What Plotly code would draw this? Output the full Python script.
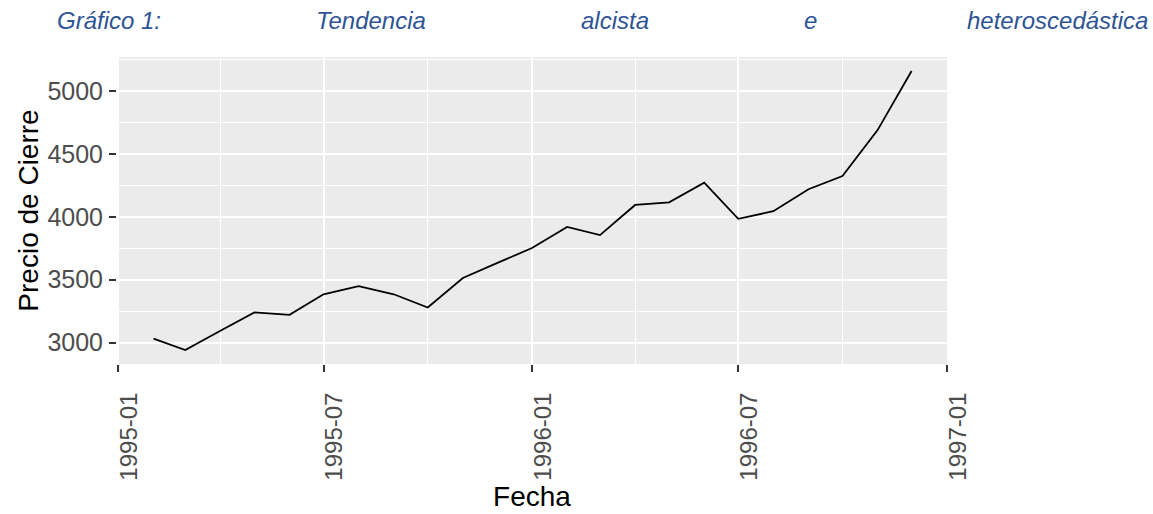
import plotly.graph_objects as go

# monthly closing prices, Feb 1995 - Dec 1996
fechas = ['1995-02-01', '1995-03-01', '1995-04-01', '1995-05-01', '1995-06-01',
          '1995-07-01', '1995-08-01', '1995-09-01', '1995-10-01', '1995-11-01',
          '1995-12-01', '1996-01-01', '1996-02-01', '1996-03-01', '1996-04-01',
          '1996-05-01', '1996-06-01', '1996-07-01', '1996-08-01', '1996-09-01',
          '1996-10-01', '1996-11-01', '1996-12-01']
cierre = [3031, 2940, 3094, 3240, 3220, 3384, 3449, 3384, 3279, 3514,
          3632, 3752, 3920, 3855, 4095, 4116, 4273, 3985, 4045, 4220,
          4325, 4691, 5162]

title_words = ['Gráfico 1:', 'Tendencia', 'alcista', 'e', 'heteroscedástica']
title_x = [55, 314, 579, 802, 965]  # left edge of each word (px), justified line

W, H = 1153, 514
L, R, T, B = 117, 206, 57, 146

fig = go.Figure()
fig.add_trace(go.Scatter(
    x=fechas,
    y=cierre,
    mode='lines',
    line=dict(color='#000000', width=1.8),
    showlegend=False,
))


def px_x(p):
    return (p - L) / (W - L - R)


def px_y(p):
    return (H - B - p) / (H - T - B)


annotations = []
for word, xp in zip(title_words, title_x):
    annotations.append(dict(
        text=word, x=px_x(xp), y=px_y(20), xref='paper', yref='paper',
        xanchor='left', yanchor='middle', showarrow=False,
        font=dict(family='Liberation Sans, Arial', size=24, color='#2F5496',
                  style='italic'),
    ))

x_font = dict(family='Liberation Sans, Arial', size=24, color='#4D4D4D')
y_font = dict(family='Liberation Sans, Arial', size=25, color='#4D4D4D')

fig.update_layout(
    width=W, height=H,
    margin=dict(l=L, r=R, t=T, b=B),
    paper_bgcolor='white',
    plot_bgcolor='#EBEBEB',
    annotations=annotations,
    font=dict(family='Liberation Sans, Arial'),
    xaxis=dict(
        type='date',
        range=['1994-12-30 18:00', '1997-01-01 06:00'],
        tick0='1995-01-01', dtick='M6', tickformat='%Y-%m',
        tickangle=-90, ticklabelshift=11, ticklabelstandoff=11,
        ticks='outside', ticklen=7, tickwidth=1.5, tickcolor='#333333',
        tickfont=x_font,
        showgrid=True, gridcolor='white', gridwidth=2,
        minor=dict(dtick='M3', tick0='1995-01-01', showgrid=True,
                   gridcolor='white', gridwidth=1, ticks=''),
        showline=False, zeroline=False,
        title=dict(text='Fecha', font=dict(size=28, color='#000000'), standoff=2),
    ),
    yaxis=dict(
        range=[2829, 5273],
        tickvals=[3000, 3500, 4000, 4500, 5000],
        ticks='outside', ticklen=7, tickwidth=1.5, tickcolor='#333333',
        ticklabelstandoff=1,
        tickfont=y_font,
        showgrid=True, gridcolor='white', gridwidth=2,
        minor=dict(tickvals=[2750, 3250, 3750, 4250, 4750, 5250], showgrid=True,
                   gridcolor='white', gridwidth=1, ticks=''),
        showline=False, zeroline=False,
        title=dict(text='Precio de Cierre', font=dict(size=28, color='#000000'),
                   standoff=0),
    ),
)

# the page body has a default 8px margin; drop it so the figure fills the window
fig.write_html('out.html', config={'displayModeBar': False},
               post_script="document.body.style.margin='0px';")
